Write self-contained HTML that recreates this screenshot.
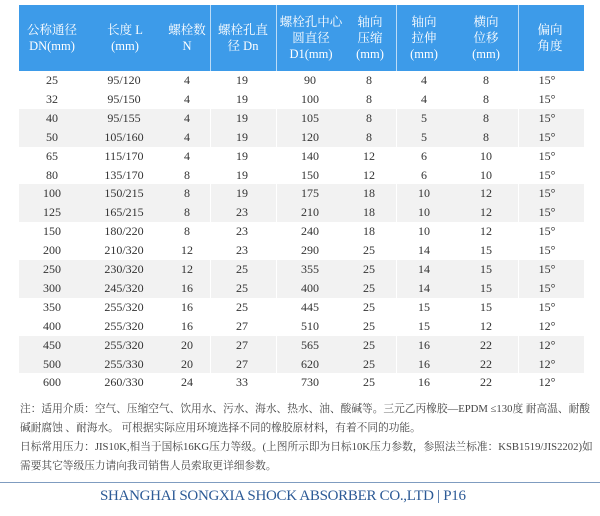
<!DOCTYPE html>
<html><head><meta charset="utf-8"><style>
body{margin:0;width:600px;height:516px;background:#fff;position:relative;overflow:hidden;font-family:"Liberation Serif","Noto Serif CJK SC",serif;}
.hd{position:absolute;left:19px;top:5px;width:565px;height:66px;background:#3d9be9;}
.hc{position:absolute;top:5px;height:66px;color:#fff;font-size:12.5px;line-height:16px;text-align:center;display:flex;align-items:center;justify-content:center;white-space:nowrap;transform:translateX(-50%);}
.dv{position:absolute;top:5px;height:387px;width:1px;background:#fff;z-index:2;}
.dvh{position:absolute;top:5px;height:66px;width:1px;background:#bcdcf7;z-index:3;}
.row{position:absolute;left:19px;width:565px;height:19px;}
.c{position:absolute;font-size:12px;color:#333;transform:translateX(-50%);line-height:19px;white-space:nowrap;z-index:4;}
.note{position:absolute;left:20px;font-size:10.7px;color:#444;white-space:nowrap;}
</style></head><body>
<div class="hd"></div>
<div class="dv" style="left:210px"></div><div class="dv" style="left:276px"></div><div class="dv" style="left:396px"></div><div class="dv" style="left:518px"></div>
<div class="dvh" style="left:210px"></div><div class="dvh" style="left:276px"></div><div class="dvh" style="left:396px"></div><div class="dvh" style="left:518px"></div>
<div class="hc" style="left:52px">公称通径<br>DN(mm)</div>
<div class="hc" style="left:125px">长度 L<br>(mm)</div>
<div class="hc" style="left:187px">螺栓数<br>N</div>
<div class="hc" style="left:243px">螺栓孔直<br>径 Dn</div>
<div class="hc" style="left:311px">螺栓孔中心<br>圆直径<br>D1(mm)</div>
<div class="hc" style="left:370px">轴向<br>压缩<br>(mm)</div>
<div class="hc" style="left:424px">轴向<br>拉伸<br>(mm)</div>
<div class="hc" style="left:486px">横向<br>位移<br>(mm)</div>
<div class="hc" style="left:550px">偏向<br>角度</div>
<div id="rows"></div>
<script>
var d=[["25","95/120","4","19","90","8","4","8"],["32","95/150","4","19","100","8","4","8"],["40","95/155","4","19","105","8","5","8"],["50","105/160","4","19","120","8","5","8"],["65","115/170","4","19","140","12","6","10"],["80","135/170","8","19","150","12","6","10"],["100","150/215","8","19","175","18","10","12"],["125","165/215","8","23","210","18","10","12"],["150","180/220","8","23","240","18","10","12"],["200","210/320","12","23","290","25","14","15"],["250","230/320","12","25","355","25","14","15"],["300","245/320","16","25","400","25","14","15"],["350","255/320","16","25","445","25","15","15"],["400","255/320","16","27","510","25","15","12"],["450","255/320","20","27","565","25","16","22"],["500","255/330","20","27","620","25","16","22"],["600","260/330","24","33","730","25","16","22"]];
var xs=[52,124,187,242,310,369,424,486];var h="";
d.forEach(function(r,i){var t=71+i*18.9;var g=(Math.floor(i/2)%2==1)?"#f2f2f2":"#fff";
h+='<div class="row" style="top:'+t+'px;background:'+g+'"></div>';
r.forEach(function(v,j){h+='<div class="c" style="left:'+xs[j]+'px;top:'+t+'px">'+v+'</div>';});
h+='<div class="c" style="left:547px;top:'+t+'px">'+(i>=13?'12°':'15°')+'</div>';});
document.getElementById('rows').innerHTML=h;
</script>
<div class="note" style="top:401px">注：适用介质：空气、压缩空气、饮用水、污水、海水、热水、油、酸碱等。三元乙丙橡胶—EPDM ≤130度 耐高温、耐酸</div>
<div class="note" style="top:420px">碱耐腐蚀 、耐海水。 可根据实际应用环境选择不同的橡胶原材料，有着不同的功能。</div>
<div class="note" style="top:439px">日标常用压力：JIS10K,相当于国标16KG压力等级。(上图所示即为日标10K压力参数，参照法兰标准：KSB1519/JIS2202)如</div>
<div class="note" style="top:458px">需要其它等级压力请向我司销售人员索取更详细参数。</div>
<div style="position:absolute;left:0;top:482px;width:600px;height:1px;background:#7f9cc0"></div>
<div style="position:absolute;left:100px;top:488px;white-space:nowrap;font-size:15px;color:#2c5a96;letter-spacing:-0.3px">SHANGHAI SONGXIA SHOCK ABSORBER CO.,LTD | P16</div>
</body></html>
